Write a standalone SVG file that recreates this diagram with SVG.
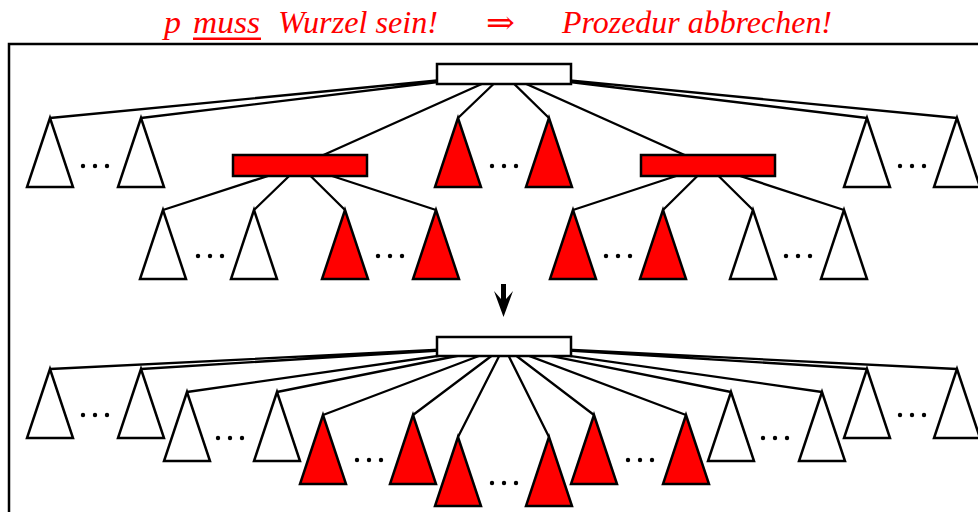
<svg xmlns="http://www.w3.org/2000/svg" width="978" height="512" viewBox="0 0 978 512">
<style>
.t{font-family:"Liberation Serif","DejaVu Serif",serif;font-style:italic;font-size:31px;fill:#f00}
.e{stroke:#000;stroke-width:2.3;fill:none}
.w{fill:#fff;stroke:#000;stroke-width:2.5;stroke-linejoin:miter}
.r{fill:#f00;stroke:#000;stroke-width:2.5;stroke-linejoin:miter}
.d{fill:#000}
</style>
<defs>
<polygon id="tri" points="0,0 -23,69 23,69"/>
<g id="dots"><circle cx="-12" cy="0" r="2.2"/><circle cx="0" cy="0" r="2.2"/><circle cx="12" cy="0" r="2.2"/></g>
</defs>
<rect x="9" y="44" width="1010" height="520" fill="none" stroke="#000" stroke-width="2.5"/>
<g id="title">
<text class="t" x="164" y="33" textLength="17" lengthAdjust="spacingAndGlyphs">p</text>
<text class="t" x="193" y="33" textLength="67" lengthAdjust="spacingAndGlyphs">muss</text>
<rect x="193" y="37.5" width="68" height="2.5" fill="#f00"/>
<text class="t" x="278" y="33" textLength="160" lengthAdjust="spacingAndGlyphs">Wurzel sein!</text>
<text class="t" x="486" y="33" textLength="29" lengthAdjust="spacingAndGlyphs" style="font-style:normal;font-family:'DejaVu Serif','Liberation Serif',serif">⇒</text>
<text class="t" x="562" y="33" textLength="270" lengthAdjust="spacingAndGlyphs">Prozedur abbrechen!</text>
</g>
<g id="connectors">
<path class="e" d="M504,74L50,118M504,74L141,118M504,74L300,165.5M504,74L458,118M504,74L549,118M504,74L708,165.5M504,74L867,118M504,74L957,118"/>
<path class="e" d="M300,165.5L163,210M300,165.5L254,210M300,165.5L345,210M300,165.5L436,210"/>
<path class="e" d="M708,165.5L573,210M708,165.5L663,210M708,165.5L753,210M708,165.5L844,210"/>
<path class="e" d="M504,346.5L50,369M504,346.5L141,369M504,346.5L867,369M504,346.5L957,369M504,346.5L187,392M504,346.5L277,392M504,346.5L731,392M504,346.5L822,392M504,346.5L323,415M504,346.5L413,415M504,346.5L594,415M504,346.5L686,415M504,346.5L458,437M504,346.5L549,437"/>
</g>
<g id="arrow">
<polygon points="501,284 506,284 506,299 513,291 503.5,317 494,291 501,299" fill="#000"/>
</g>
<g id="top-tree">
<g id="root1"><rect class="w" x="437" y="64" width="134" height="20"/></g>
<g id="redL"><rect class="r" x="233" y="155" width="134" height="21"/></g>
<g id="redR"><rect class="r" x="641" y="155" width="134" height="21"/></g>
<g id="t1a"><use href="#tri" class="w" x="50" y="118"/></g>
<g id="t1b"><use href="#tri" class="w" x="141" y="118"/></g>
<g id="t1c"><use href="#tri" class="r" x="458" y="118"/></g>
<g id="t1d"><use href="#tri" class="r" x="549" y="118"/></g>
<g id="t1e"><use href="#tri" class="w" x="867" y="118"/></g>
<g id="t1f"><use href="#tri" class="w" x="957" y="118"/></g>
<g id="t2a"><use href="#tri" class="w" x="163" y="210"/></g>
<g id="t2b"><use href="#tri" class="w" x="254" y="210"/></g>
<g id="t2c"><use href="#tri" class="r" x="345" y="210"/></g>
<g id="t2d"><use href="#tri" class="r" x="436" y="210"/></g>
<g id="t2e"><use href="#tri" class="r" x="573" y="210"/></g>
<g id="t2f"><use href="#tri" class="r" x="663" y="210"/></g>
<g id="t2g"><use href="#tri" class="w" x="753" y="210"/></g>
<g id="t2h"><use href="#tri" class="w" x="844" y="210"/></g>
<g class="d">
<use href="#dots" x="95" y="166"/><use href="#dots" x="504" y="166"/><use href="#dots" x="912" y="166"/>
<use href="#dots" x="210" y="256"/><use href="#dots" x="390" y="256"/><use href="#dots" x="618" y="256"/><use href="#dots" x="798" y="256"/>
</g>
</g>
<g id="bottom-tree">
<g id="root2"><rect class="w" x="437" y="337" width="134" height="19"/></g>
<g id="bA1"><use href="#tri" class="w" x="50" y="369"/></g>
<g id="bA2"><use href="#tri" class="w" x="141" y="369"/></g>
<g id="bA3"><use href="#tri" class="w" x="867" y="369"/></g>
<g id="bA4"><use href="#tri" class="w" x="957" y="369"/></g>
<g id="bB1"><use href="#tri" class="w" x="187" y="392"/></g>
<g id="bB2"><use href="#tri" class="w" x="277" y="392"/></g>
<g id="bB3"><use href="#tri" class="w" x="731" y="392"/></g>
<g id="bB4"><use href="#tri" class="w" x="822" y="392"/></g>
<g id="bC1"><use href="#tri" class="r" x="323" y="415"/></g>
<g id="bC2"><use href="#tri" class="r" x="413" y="415"/></g>
<g id="bC3"><use href="#tri" class="r" x="594" y="415"/></g>
<g id="bC4"><use href="#tri" class="r" x="686" y="415"/></g>
<g id="bD1"><use href="#tri" class="r" x="458" y="437"/></g>
<g id="bD2"><use href="#tri" class="r" x="549" y="437"/></g>
<g class="d">
<use href="#dots" x="95" y="415"/><use href="#dots" x="912" y="415"/>
<use href="#dots" x="230" y="438"/><use href="#dots" x="775" y="438"/>
<use href="#dots" x="369" y="460"/><use href="#dots" x="640" y="460"/>
<use href="#dots" x="504" y="483"/>
</g>
</g>
</svg>
